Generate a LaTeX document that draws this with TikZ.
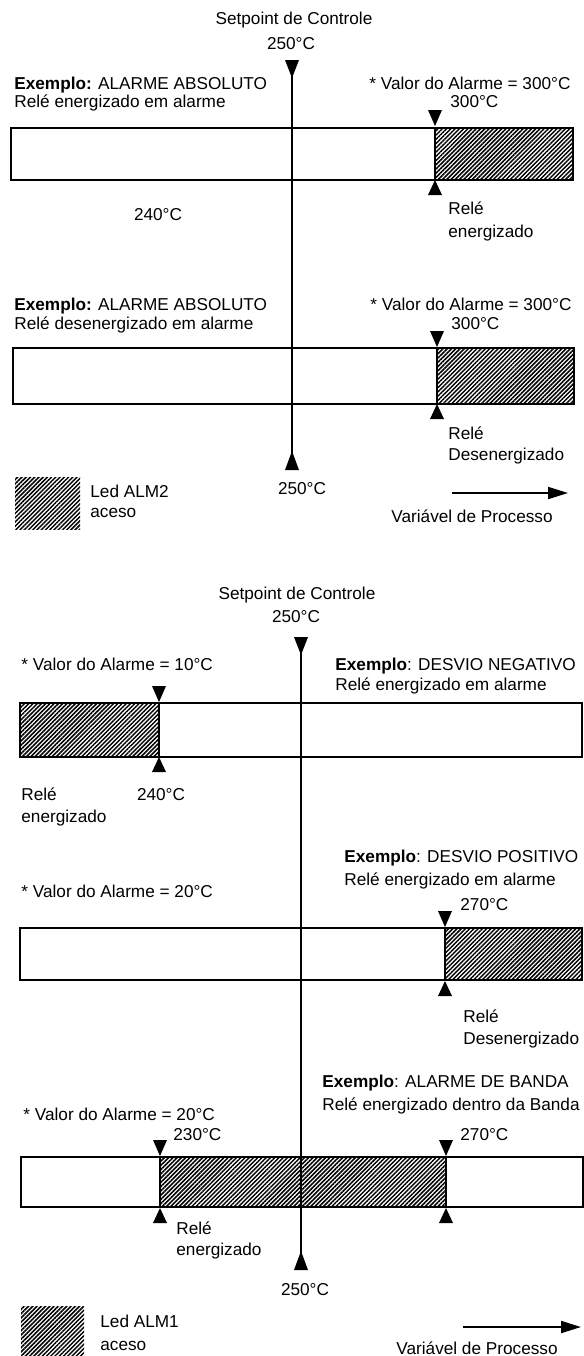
\documentclass[tikz,border=0pt]{standalone}
\usepackage{fontspec}
\setmainfont{Liberation Sans}
\usetikzlibrary{patterns.meta,arrows.meta}
\begin{document}
\begin{tikzpicture}[x=0.5pt,y=-0.5pt,
  txt/.style={font=\fontsize{8.6}{10}\selectfont, inner sep=0pt, text height=0.72em, text depth=0pt},
  ltxt/.style={txt, anchor=west},
  ctxt/.style={txt, anchor=center},
  barline/.style={line width=1.4pt},
  hatch/.style={pattern={Lines[angle=45,distance=1.5pt,line width=0.75pt]}},
  spline/.style={line width=0.9pt},
  pvarrow/.style={line width=1pt,-{Triangle[length=10pt,width=6pt]}},
  tdn/.pic={\fill (-7,0) -- (7,0) -- (0,16) -- cycle;},
  tup/.pic={\fill (-7,0) -- (7,0) -- (0,-15) -- cycle;},
  spdn/.pic={\fill (-7,0) -- (7,0) -- (0,18) -- cycle;},
  spup/.pic={\fill (-7,0) -- (7,0) -- (0,-19) -- cycle;},
]
\useasboundingbox (0,0) rectangle (584,1356);

% ================= TOP SECTION =================
\node[ctxt] (sp1) at (294,17) {Setpoint de Controle};
\node[ctxt] (sp1v) at (291,42) {250°C};

% bar 1
\fill[hatch] (435,128) rectangle (573,180);
\draw[barline] (11,128) rectangle (573,180);
\draw[barline] (435,128) -- (435,180);
\pic at (435,110) {tdn};
\pic at (435,195) {tup};
\node[ltxt] (ex1) at (14,82) {\textbf{Exemplo:} ALARME ABSOLUTO};
\node[ltxt] (ex1b) at (14,100) {Relé energizado em alarme};
\node[ltxt] (va1) at (369,82) {* Valor do Alarme = 300°C};
\node[ltxt] (v300a) at (450,100) {300°C};
\node[ctxt] (t240a) at (158,213) {240°C};
\node[ltxt] (re1) at (448,207) {Relé};
\node[ltxt] (re1b) at (448,230) {energizado};

% bar 2
\fill[hatch] (437,348) rectangle (574,404);
\draw[barline] (13,348) rectangle (574,404);
\draw[barline] (437,348) -- (437,404);
\pic at (437,331) {tdn};
\pic at (437,419) {tup};
\node[ltxt] (ex2) at (14,303) {\textbf{Exemplo:} ALARME ABSOLUTO};
\node[ltxt] (ex2b) at (14,322) {Relé desenergizado em alarme};
\node[ltxt] (va2) at (370,303) {* Valor do Alarme = 300°C};
\node[ltxt] (v300b) at (451,322) {300°C};
\node[ltxt] (re2) at (448,432) {Relé};
\node[ltxt] (re2b) at (448,453) {Desenergizado};

% setpoint line 1
\coordinate (s1top) at (292,60);
\coordinate (s1bot) at (292,470);
\draw[spline] (s1top) -- (s1bot);
\pic at (s1top) {spdn};
\pic at (s1bot) {spup};
\node[ctxt] (sp1b) at (302,487) {250°C};

% legend 1
\fill[hatch] (15,477) rectangle (80,529);
\node[ltxt] (led2) at (90,490) {Led ALM2};
\node[ltxt] (led2b) at (90,510) {aceso};
\coordinate (a1s) at (452,493);
\coordinate (a1e) at (568,493);
\draw[pvarrow] (a1s) -- (a1e);
\node[ctxt] (pv1) at (472,515) {Variável de Processo};

% ================= BOTTOM SECTION =================
\node[ctxt] (sp2) at (297,592) {Setpoint de Controle};
\node[ctxt] (sp2v) at (296,615) {250°C};

% bar 3
\fill[hatch] (20,703) rectangle (159,757);
\draw[barline] (20,703) rectangle (582,757);
\draw[barline] (159,703) -- (159,757);
\pic at (159,686) {tdn};
\pic at (159,772) {tup};
\node[ltxt] (va3) at (21,663) {* Valor do Alarme = 10°C};
\node[ltxt] (ex3) at (335,663) {\textbf{Exemplo}: DESVIO NEGATIVO};
\node[ltxt] (ex3b) at (335,683) {Relé energizado em alarme};
\node[ltxt] (re3) at (21,793) {Relé};
\node[ltxt] (re3b) at (21,815) {energizado};
\node[ctxt] (t240b) at (161,793) {240°C};

% bar 4
\fill[hatch] (445,928) rectangle (582,980);
\draw[barline] (20,928) rectangle (582,980);
\draw[barline] (445,928) -- (445,980);
\pic at (445,911) {tdn};
\pic at (445,996) {tup};
\node[ltxt] (ex4) at (344,855) {\textbf{Exemplo}: DESVIO POSITIVO};
\node[ltxt] (ex4b) at (344,878) {Relé energizado em alarme};
\node[ltxt] (va4) at (21,890) {* Valor do Alarme = 20°C};
\node[ltxt] (v270a) at (460,903) {270°C};
\node[ltxt] (re4) at (463,1015) {Relé};
\node[ltxt] (re4b) at (463,1037) {Desenergizado};

% bar 5
\fill[hatch] (160,1157) rectangle (446,1207);
\draw[barline] (21,1157) rectangle (583,1207);
\draw[barline] (160,1157) -- (160,1207);
\draw[barline] (446,1157) -- (446,1207);
\pic at (160,1140) {tdn};
\pic at (446,1140) {tdn};
\pic at (160,1223) {tup};
\pic at (446,1223) {tup};
\node[ltxt] (ex5) at (322,1080) {\textbf{Exemplo}: ALARME DE BANDA};
\node[ltxt] (ex5b) at (322,1103) {Relé energizado dentro da Banda};
\node[ltxt] (va5) at (23,1113) {* Valor do Alarme = 20°C};
\node[ltxt] (v230) at (173,1133) {230°C};
\node[ltxt] (v270b) at (460,1133) {270°C};
\node[ltxt] (re5) at (176,1227) {Relé};
\node[ltxt] (re5b) at (176,1248) {energizado};

% setpoint line 2
\coordinate (s2top) at (301,637);
\coordinate (s2bot) at (301,1270);
\draw[spline] (s2top) -- (s2bot);
\pic at (s2top) {spdn};
\pic at (s2bot) {spup};
\node[ctxt] (sp2b) at (305,1288) {250°C};

% legend 2
\fill[hatch] (21,1306) rectangle (84,1356);
\node[ltxt] (led1) at (100,1320) {Led ALM1};
\node[ltxt] (led1b) at (100,1343) {aceso};
\coordinate (a2s) at (463,1327);
\coordinate (a2e) at (581,1327);
\draw[pvarrow] (a2s) -- (a2e);
\node[ctxt] (pv2) at (477,1347) {Variável de Processo};
\end{tikzpicture}
\end{document}
